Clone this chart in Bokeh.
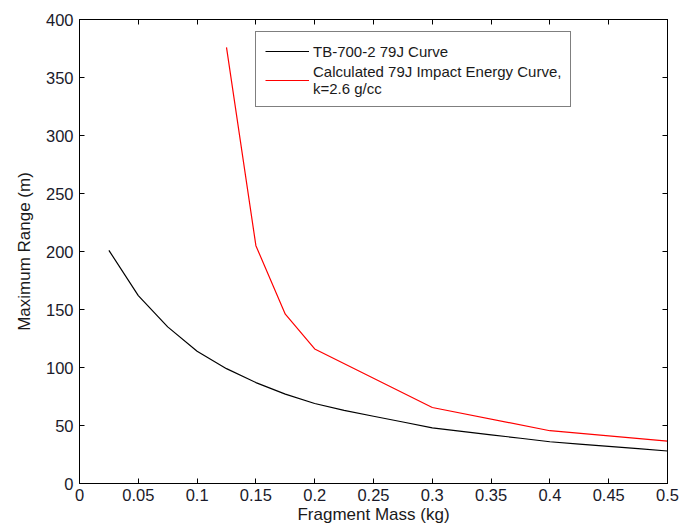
from bokeh.plotting import figure
from bokeh.models import (LinearAxis, FixedTicker, Range1d, Legend, LegendItem)
from bokeh.embed import file_html
from bokeh.resources import INLINE

# ---- data ----
tb_mass = [0.025, 0.05, 0.075, 0.1, 0.125, 0.15, 0.175, 0.2, 0.225, 0.25,
           0.275, 0.3, 0.325, 0.35, 0.375, 0.4, 0.425, 0.45, 0.475, 0.5]
tb_range = [201, 162, 135, 114, 99, 87, 77, 69, 63, 58,
            53, 48, 45, 42, 39, 36, 34, 32, 30, 28]

calc_mass = [0.125, 0.15, 0.175, 0.2, 0.3, 0.4, 0.5]
calc_range = [376, 205, 146, 116, 65.5, 45.5, 36.5]

x_ticks = [0, 0.05, 0.1, 0.15, 0.2, 0.25, 0.3, 0.35, 0.4, 0.45, 0.5]
x_tick_labels = ["0", "0.05", "0.1", "0.15", "0.2", "0.25", "0.3", "0.35", "0.4", "0.45", "0.5"]
y_ticks = [0, 50, 100, 150, 200, 250, 300, 350, 400]

tb_label = "TB-700-2 79J Curve"
calc_label = "Calculated 79J Impact Energy Curve,\nk=2.6 g/cc"

FONT = "Liberation Sans"

p = figure(width=679, height=531, output_backend="svg", toolbar_location=None,
           x_range=Range1d(0, 0.5), y_range=Range1d(0, 400),
           x_axis_label="Fragment Mass (kg)", y_axis_label="Maximum Range (m)",
           min_border_left=79, min_border_right=12, min_border_top=19, min_border_bottom=48)
p.grid.visible = False
p.outline_line_color = "black"
p.outline_line_width = 1
p.background_fill_color = "white"
p.border_fill_color = "white"

r_tb = p.line(tb_mass, tb_range, line_color="black", line_width=1.2)
r_calc = p.line(calc_mass, calc_range, line_color="#ff0000", line_width=1.2)

def style_axis(ax, ticks, labels=None):
    ax.ticker = FixedTicker(ticks=ticks)
    ax.axis_line_color = "black"
    ax.major_tick_line_color = "black"
    ax.major_tick_in = 5
    ax.major_tick_out = 0
    ax.minor_tick_line_color = None
    ax.major_label_text_font = FONT
    ax.major_label_text_font_size = "16.5px"
    ax.major_label_text_color = "#1a1a2a"
    ax.axis_label_text_font = FONT
    ax.axis_label_text_font_size = "17px"
    ax.axis_label_text_font_style = "normal"
    ax.axis_label_text_color = "#1a1a1a"
    if labels is not None:
        ax.major_label_overrides = dict(zip(ticks, labels))

xa = p.xaxis[0]
style_axis(xa, x_ticks, x_tick_labels)
xa.major_label_standoff = 5
xa.axis_label_standoff = 1

ya = p.yaxis[0]
style_axis(ya, y_ticks)
ya.major_label_standoff = 6
ya.axis_label_standoff = 9

top = LinearAxis()
style_axis(top, x_ticks, [""] * len(x_ticks))
top.major_label_standoff = 0
p.add_layout(top, "above")
right = LinearAxis()
style_axis(right, y_ticks, [""] * len(y_ticks))
right.major_label_standoff = 0
p.add_layout(right, "right")

legend = Legend(items=[LegendItem(label=tb_label, renderers=[r_tb]),
                       LegendItem(label=calc_label, renderers=[r_calc])],
                location=(176, 376))
legend.border_line_color = "black"
legend.border_line_width = 1
legend.background_fill_color = "white"
legend.background_fill_alpha = 1
legend.label_text_font = FONT
legend.label_text_font_size = "15px"
legend.label_text_color = "#1a1a1a"
legend.glyph_width = 44
legend.label_standoff = 4
legend.padding = 9
legend.spacing = 2
legend.margin = 0
p.add_layout(legend, "center")

open("out.html", "w").write(file_html(p, INLINE))
